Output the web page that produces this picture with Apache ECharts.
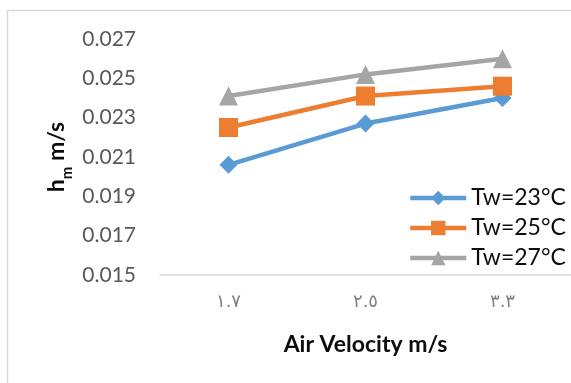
<!DOCTYPE html>
<html>
<head>
<meta charset="utf-8">
<script src="https://cdn.jsdelivr.net/npm/echarts@6/dist/echarts.min.js"></script>
<style>
html,body{margin:0;padding:0;background:#fff;}
#chart{width:571px;height:383px;}
</style>
</head>
<body>
<div id="chart"></div>
<script>
var categories = ['١.٧', '٢.٥', '٣.٣'];
var seriesNames = ['Tw=23°C', 'Tw=25°C', 'Tw=27°C'];
var tw23 = [0.0206, 0.0227, 0.0240];
var tw25 = [0.0225, 0.0241, 0.0246];
var tw27 = [0.0241, 0.0252, 0.0260];
var yTicks = { min: 0.015, max: 0.027, step: 0.002 };
var xTitle = 'Air Velocity m/s';

var chart = echarts.init(document.getElementById('chart'), null, { renderer: 'canvas' });
var font = 'Lato, "Noto Sans", sans-serif';

function mk(name, data, color, symbol, size) {
  return {
    name: name, type: 'line', data: data,
    symbol: symbol, symbolSize: size,
    lineStyle: { color: color, width: 4.5 },
    itemStyle: { color: color },
    emphasis: { disabled: true },
    animation: false,
    z: 2
  };
}

chart.setOption({
  backgroundColor: '#fff',
  animation: false,
  grid: { left: 160, right: -3, top: 39, bottom: 108, containLabel: false },
  xAxis: {
    type: 'category', data: categories, boundaryGap: true,
    axisLine: { show: true, lineStyle: { color: '#d9d9d9', width: 1.5 } },
    axisTick: { show: false },
    axisLabel: { color: '#808080', fontSize: 18, fontFamily: '"DejaVu Sans", sans-serif', margin: 18 },
    name: xTitle, nameLocation: 'middle', nameGap: 58,
    nameTextStyle: { color: '#0d0d0d', fontSize: 23, fontWeight: 'bold', fontFamily: font }
  },
  yAxis: {
    type: 'value', min: yTicks.min, max: yTicks.max, interval: yTicks.step,
    axisLine: { show: false }, axisTick: { show: false },
    splitLine: { show: false },
    axisLabel: { color: '#595959', fontSize: 21, fontFamily: font, margin: 24,
      formatter: function (v) { return v.toFixed(3); } }
  },
  legend: {
    orient: 'vertical', left: 403, top: 181,
    itemWidth: 56, itemHeight: 18, itemGap: 6,
    lineStyle: { width: 4.5 },
    textStyle: { color: '#0d0d0d', fontSize: 23, fontFamily: font, lineHeight: 24 },
    data: seriesNames
  },
  graphic: [
    { type: 'rect', shape: { x: 7.5, y: 10.5, width: 700, height: 500 },
      style: { fill: null, stroke: '#d9d9d9', lineWidth: 1.5 }, silent: true, z: 0 },
    { type: 'text', x: 57, y: 157, rotation: Math.PI / 2,
      style: {
        text: '{a|h}{s|m}{a| m/s}',
        align: 'center', verticalAlign: 'middle',
        rich: {
          a: { fontSize: 23, fontWeight: 'bold', fontFamily: font, fill: '#0d0d0d', verticalAlign: 'bottom' },
          s: { fontSize: 15, fontWeight: 'bold', fontFamily: font, fill: '#0d0d0d', verticalAlign: 'bottom', padding: [0, 0, -6, 0] }
        }
      }, silent: true }
  ],
  series: [
    mk(seriesNames[0], tw23, '#5b9bd5', 'diamond', 18),
    mk(seriesNames[1], tw25, '#ed7d31', 'rect', 19),
    mk(seriesNames[2], tw27, '#a5a5a5', 'triangle', 19)
  ]
});
</script>
</body>
</html>
